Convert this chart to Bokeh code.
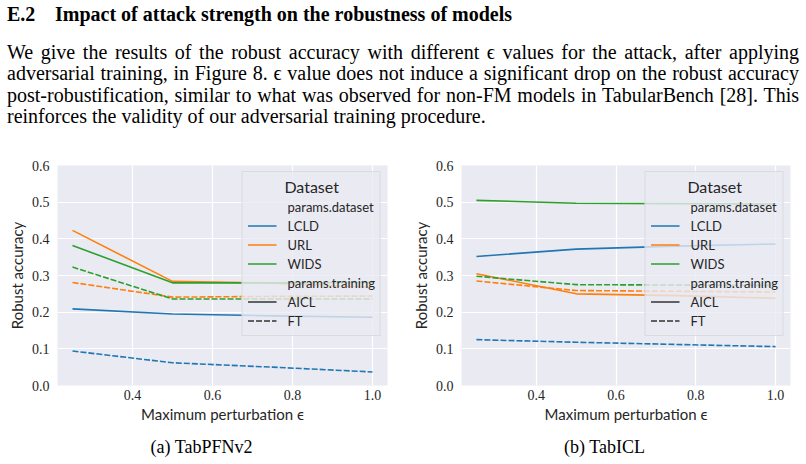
from bokeh.plotting import figure
from bokeh.models import Div, Legend, LegendItem, Range1d, FixedTicker
from bokeh.layouts import column, row
from bokeh.embed import file_html
from bokeh.resources import INLINE

# ---------------- data ----------------
eps = [0.25, 0.5, 0.75, 1.0]
datasets = ["LCLD", "URL", "WIDS"]
trainings = ["AICL", "FT"]
colors = {"LCLD": "#1f77b4", "URL": "#ff7f0e", "WIDS": "#2ca02c"}

tabpfn_lcld_aicl = [0.209, 0.195, 0.190, 0.186]
tabpfn_lcld_ft = [0.094, 0.062, 0.050, 0.037]
tabpfn_url_aicl = [0.423, 0.284, 0.279, 0.268]
tabpfn_url_ft = [0.281, 0.241, 0.243, 0.244]
tabpfn_wids_aicl = [0.382, 0.280, 0.280, 0.281]
tabpfn_wids_ft = [0.323, 0.236, 0.236, 0.236]

tabicl_lcld_aicl = [0.352, 0.372, 0.380, 0.386]
tabicl_lcld_ft = [0.125, 0.118, 0.112, 0.106]
tabicl_url_aicl = [0.305, 0.250, 0.245, 0.238]
tabicl_url_ft = [0.285, 0.259, 0.257, 0.255]
tabicl_wids_aicl = [0.505, 0.497, 0.496, 0.495]
tabicl_wids_ft = [0.298, 0.275, 0.274, 0.273]

x_ticks = [0.4, 0.6, 0.8, 1.0]
x_tick_labels = ["0.4", "0.6", "0.8", "1.0"]
y_ticks = [0.0, 0.1, 0.2, 0.3, 0.4, 0.5, 0.6]
y_tick_labels = ["0.0", "0.1", "0.2", "0.3", "0.4", "0.5", "0.6"]

heading_num = "E.2"
heading_text = "Impact of attack strength on the robustness of models"
para_lines = [
    "We give the results of the robust accuracy with different \u03f5 values for the attack, after applying",
    "adversarial training, in Figure 8. \u03f5 value does not induce a significant drop on the robust accuracy",
    "post-robustification, similar to what was observed for non-FM models in TabularBench [28]. This",
    "reinforces the validity of our adversarial training procedure.",
]
captions = ["(a) TabPFNv2", "(b) TabICL"]

panels = [
    {"LCLD": {"AICL": tabpfn_lcld_aicl, "FT": tabpfn_lcld_ft},
     "URL": {"AICL": tabpfn_url_aicl, "FT": tabpfn_url_ft},
     "WIDS": {"AICL": tabpfn_wids_aicl, "FT": tabpfn_wids_ft}},
    {"LCLD": {"AICL": tabicl_lcld_aicl, "FT": tabicl_lcld_ft},
     "URL": {"AICL": tabicl_url_aicl, "FT": tabicl_url_ft},
     "WIDS": {"AICL": tabicl_wids_aicl, "FT": tabicl_wids_ft}},
]

NAN = float("nan")
DASH = "6 2"
TXT = "#262626"
SANS = "Lato"
SERIF = "Liberation Serif"


def make_fig(data, border_left, frame_w):
    p = figure(frame_width=frame_w, frame_height=220,
               x_range=Range1d(0.2125, 1.0375), y_range=Range1d(0.0, 0.6),
               output_backend="svg", toolbar_location=None,
               min_border_left=border_left, min_border_right=16,
               min_border_top=20, min_border_bottom=44,
               background_fill_color="#EAEAF2", border_fill_color="white",
               outline_line_color=None, margin=0)
    p.grid.grid_line_color = "white"
    p.grid.grid_line_width = 1.2
    p.xaxis.ticker = FixedTicker(ticks=x_ticks)
    p.yaxis.ticker = FixedTicker(ticks=y_ticks)
    p.xaxis.major_label_overrides = dict(zip(x_ticks, x_tick_labels))
    p.yaxis.major_label_overrides = dict(zip(y_ticks, y_tick_labels))
    for ax in (p.xaxis[0], p.yaxis[0]):
        ax.axis_line_color = None
        ax.major_tick_line_color = None
        ax.minor_tick_line_color = None
        ax.major_tick_out = 0
        ax.major_tick_in = 0
        ax.major_label_text_font = SERIF
        ax.major_label_text_font_size = "14px"
        ax.major_label_text_color = TXT
        ax.axis_label_text_font = SANS
        ax.axis_label_text_font_size = "15px"
        ax.axis_label_text_font_style = "normal"
        ax.axis_label_text_color = TXT
    p.xaxis.axis_label = "Maximum perturbation \u03f5"
    p.yaxis.axis_label = "Robust accuracy"
    p.xaxis.major_label_standoff = 4
    p.xaxis.axis_label_standoff = 2
    p.yaxis.major_label_standoff = 8
    p.yaxis.axis_label_standoff = 3

    rends = {}
    for ds in datasets:
        for tr in trainings:
            r = p.line(eps, data[ds][tr], line_color=colors[ds], line_width=1.6,
                       line_dash="solid" if tr == "AICL" else DASH)
            rends[(ds, tr)] = r

    # legend-only renderers (no visible data)
    blank1 = p.line([NAN, NAN], [NAN, NAN], line_alpha=0)
    blank2 = p.line([NAN, NAN], [NAN, NAN], line_alpha=0)
    aicl = p.line([NAN, NAN], [NAN, NAN], line_color="#333333", line_width=1.6)
    ft = p.line([NAN, NAN], [NAN, NAN], line_color="#333333", line_width=1.6,
                line_dash=DASH)
    items = [LegendItem(label="params.dataset", renderers=[blank1])]
    for ds in datasets:
        items.append(LegendItem(label=ds, renderers=[rends[(ds, "AICL")]]))
    items.append(LegendItem(label="params.training", renderers=[blank2]))
    items.append(LegendItem(label="AICL", renderers=[aicl]))
    items.append(LegendItem(label="FT", renderers=[ft]))
    leg = Legend(items=items, location="top_right",
                 title="\u00a0" * 9 + "Dataset",
                 title_text_font=SANS, title_text_font_size="16px",
                 title_text_font_style="normal", title_text_color=TXT,
                 title_standoff=1,
                 label_text_font=SANS, label_text_font_size="13px",
                 label_text_color=TXT,
                 glyph_width=29, glyph_height=19, label_height=19,
                 spacing=0, padding=5, label_standoff=11, margin=6,
                 background_fill_color="#EAEAF2", background_fill_alpha=0.8,
                 border_line_color="#CCCCCC", border_line_width=1)
    p.add_layout(leg)
    return p


p1 = make_fig(panels[0], 57, 330)
p2 = make_fig(panels[1], 58, 329)

line_divs = ""
for i, ln in enumerate(para_lines):
    last = i == len(para_lines) - 1
    align = "left" if last else "justify"
    line_divs += (f'<div style="text-align:{align};text-align-last:{align};'
                  f'height:21.3px;line-height:21.3px;">{ln}</div>')

header_html = (
    f'<div style="font-family:\'{SERIF}\',serif;color:#000;margin:0;padding:0;width:806px;">'
    f'<div style="margin-top:2px;height:24px;line-height:24px;font-size:20px;font-weight:bold;'
    f'padding-left:7px;white-space:nowrap;">'
    f'<span style="display:inline-block;width:48px;">{heading_num}</span>{heading_text}</div>'
    f'<div style="margin-top:16px;margin-left:7px;width:792px;font-size:20px;">{line_divs}</div>'
    f'</div>'
)
header = Div(text=header_html, width=806, height=145, margin=0)

cap_divs = []
for c in captions:
    cap_divs.append(Div(
        text=(f'<div style="font-family:\'{SERIF}\',serif;font-size:18px;color:#000;'
              f'text-align:center;width:403px;line-height:36px;height:35px;">{c}</div>'),
        width=403, height=35, margin=0))

layout = column(header, row(p1, p2, margin=0), row(*cap_divs, margin=0), margin=0)
open("out.html", "w").write(file_html(layout, INLINE))
